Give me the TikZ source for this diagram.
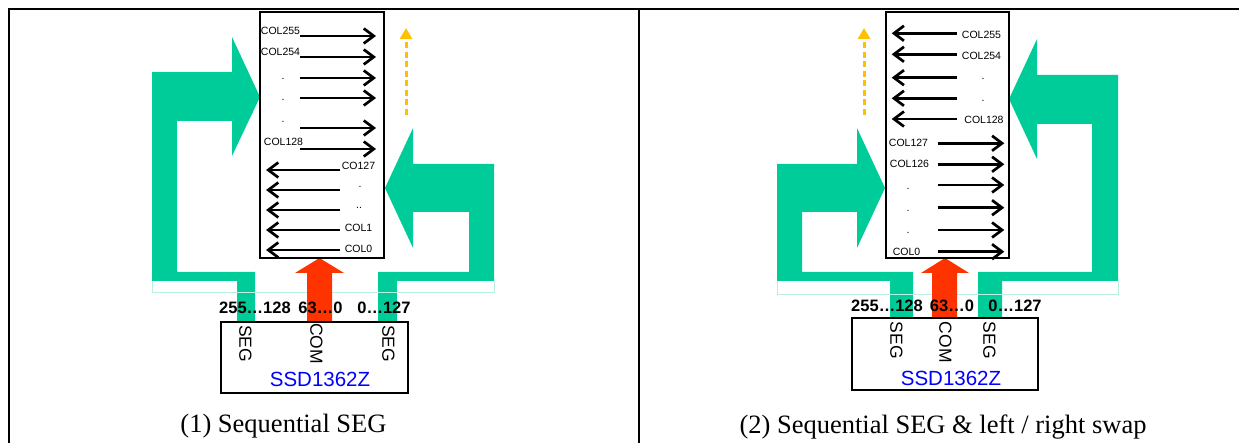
\documentclass[tikz,border=0pt]{standalone}
\usepackage{fontspec}
\setmainfont{Liberation Serif}
\setsansfont{Liberation Sans}
\usetikzlibrary{arrows.meta}
\definecolor{segg}{RGB}{0,204,153}
\definecolor{comr}{RGB}{255,51,0}
\definecolor{scan}{RGB}{255,192,0}
\definecolor{palec}{RGB}{185,240,226}
\definecolor{chipblue}{RGB}{0,0,255}
\begin{document}
\begin{tikzpicture}[x=1pt,y=-1pt,
  rowarrow/.style={line width=2.7pt,-{Straight Barb[length=10pt,width=15pt,line width=2.7pt]}},
  scanarrow/.style={scan,line width=3pt,dash pattern=on 6pt off 3.5pt,-{Triangle[length=11pt,width=12pt]}},
  lbl/.style={font=\sffamily\fontsize{10.5}{12}\selectfont,inner sep=0pt},
  dotlbl/.style={font=\sffamily\fontsize{10.5}{12}\selectfont,inner sep=0pt,anchor=base},
  num/.style={font=\sffamily\bfseries\fontsize{16.5}{18}\selectfont,inner sep=0pt},
  pin/.style={font=\sffamily\fontsize{17.5}{20}\selectfont,inner sep=0pt,rotate=-90,anchor=west},
  chip/.style={font=\sffamily\fontsize{20.5}{24}\selectfont,text=chipblue,inner sep=0pt},
  captxt/.style={font=\rmfamily\fontsize{26.5}{30}\selectfont,inner sep=0pt,anchor=base},
  dispbox/.style={draw,line width=2pt,inner sep=0pt},
  chipbox/.style={draw,line width=1.5pt,inner sep=0pt},
  bus/.style={fill=segg,draw=none},
  comarrow/.style={fill=comr,draw=none},
  paleline/.style={draw=palec,line width=1pt}
]
\useasboundingbox (0,0) rectangle (1239,443);
% table frame
\draw[line width=2.3pt] (7.6,9) -- (1239,9);
\draw[line width=2.3pt] (8.7,7.9) -- (8.7,443);
\draw[line width=2.3pt] (639,7.9) -- (639,443);

% ================= PANEL 1 =================
\path[bus] (152,281) -- (152,72) -- (232,72) -- (232,37) -- (260,97) -- (232,156) -- (232,121) -- (177,121) -- (177,272) -- (255,272) -- (255,322) -- (237,322) -- (237,281) -- cycle;
\path[bus] (494,164) -- (413,164) -- (413,128) -- (385,188) -- (413,248) -- (413,212) -- (469,212) -- (469,272) -- (378,272) -- (378,322) -- (397,322) -- (397,281) -- (494,281) -- cycle;
\draw[paleline] (152,281) -- (152,293) -- (494,293) -- (494,281);
\path[comarrow] (307,322) -- (307,273) -- (295,273) -- (319.5,258) -- (344,273) -- (332,273) -- (332,322) -- cycle;
\node[dispbox,minimum width=124pt,minimum height=246pt] (dispA) at (322,135) {};
\foreach \y in {36,57,78,98,128,149} \draw[rowarrow] (300,\y) -- (376,\y);
\foreach \y in {170,190,210,230,250} \draw[rowarrow] (340,\y) -- (266,\y);
\node[lbl] (a255) at (280.5,31) {COL255};
\node[lbl] (a254) at (280.5,52) {COL254};
\node[dotlbl] (ad1) at (283,80) {.};
\node[dotlbl] (ad2) at (283,101) {.};
\node[dotlbl] (ad3) at (283,123) {.};
\node[lbl] (a128) at (283.5,142) {COL128};
\node[lbl] (a127) at (358.5,166) {CO127};
\node[dotlbl] (ad4) at (360,188) {.};
\node[dotlbl] (ad5) at (359,209) {..};
\node[lbl] (a1) at (358.5,228) {COL1};
\node[lbl] (a0) at (358.5,249) {COL0};
\coordinate (scanAs) at (406,115);
\coordinate (scanAe) at (406,28);
\draw[scanarrow] (scanAs) -- (scanAe);
\node[chipbox,minimum width=187pt,minimum height=71pt] (chipA) at (314.5,357.5) {};
\node[pin] (pA1) at (245.5,325) {SEG};
\node[pin] (pA2) at (316.5,323) {COM};
\node[pin] (pA3) at (388.5,325) {SEG};
\node[chip] (nA) at (320,379.5) {SSD1362Z};
\node[num] (rA1) at (255,307.5) {255\ldots128};
\node[num] (rA2) at (320.5,307.5) {63\ldots0};
\node[num] (rA3) at (384,307.5) {0\ldots127};
\node[captxt] (capA) at (283.5,432.5) {(1) Sequential SEG};

% ================= PANEL 2 =================
\path[bus] (1118,281) -- (1118,75) -- (1037,75) -- (1037,39) -- (1009,99) -- (1037,159) -- (1037,124) -- (1092,124) -- (1092,272) -- (978,272) -- (978,318) -- (1002,318) -- (1002,281) -- cycle;
\path[bus] (777,281) -- (777,164) -- (857,164) -- (857,128) -- (885,188) -- (857,248) -- (857,212) -- (802,212) -- (802,272) -- (913,272) -- (913,318) -- (890,318) -- (890,281) -- cycle;
\draw[paleline] (777,281) -- (777,295) -- (1118,295) -- (1118,281);
\path[comarrow] (932,318) -- (932,273) -- (921,273) -- (945,258) -- (969,273) -- (957,273) -- (957,318) -- cycle;
\node[dispbox,minimum width=123pt,minimum height=246pt] (dispB) at (947.5,135) {};
\foreach \y in {33.3,54.3,77.7,98.3,119} \draw[rowarrow] (956.7,\y) -- (891.7,\y);
\foreach \y in {143.3,164.3,185,207.7,230,251.7} \draw[rowarrow] (937.7,\y) -- (1004.3,\y);
\node[lbl] (b255) at (981.5,34.5) {COL255};
\node[lbl] (b254) at (981.5,55.5) {COL254};
\node[dotlbl] (bd1) at (983,80) {.};
\node[dotlbl] (bd2) at (983,102) {.};
\node[lbl] (b128) at (984,120) {COL128};
\node[lbl] (b127) at (908.5,143) {COL127};
\node[lbl] (b126) at (909.5,164) {COL126};
\node[dotlbl] (bd3) at (908,190) {.};
\node[dotlbl] (bd4) at (908,212) {.};
\node[dotlbl] (bd5) at (908,234) {.};
\node[lbl] (b0) at (906.5,252) {COL0};
\coordinate (scanBs) at (864,115);
\coordinate (scanBe) at (864,28);
\draw[scanarrow] (scanBs) -- (scanBe);
\node[chipbox,minimum width=186pt,minimum height=72pt] (chipB) at (945,354) {};
\node[pin] (pB1) at (896.5,321.7) {SEG};
\node[pin] (pB2) at (945.5,321.7) {COM};
\node[pin] (pB3) at (989.5,321.7) {SEG};
\node[chip] (nB) at (951,378) {SSD1362Z};
\node[num] (rB1) at (887,306) {255\ldots128};
\node[num] (rB2) at (952,306) {63\ldots0};
\node[num] (rB3) at (1015,306) {0\ldots127};
\node[captxt] (capB) at (943,433) {(2) Sequential SEG \& left / right swap};
\end{tikzpicture}
\end{document}
